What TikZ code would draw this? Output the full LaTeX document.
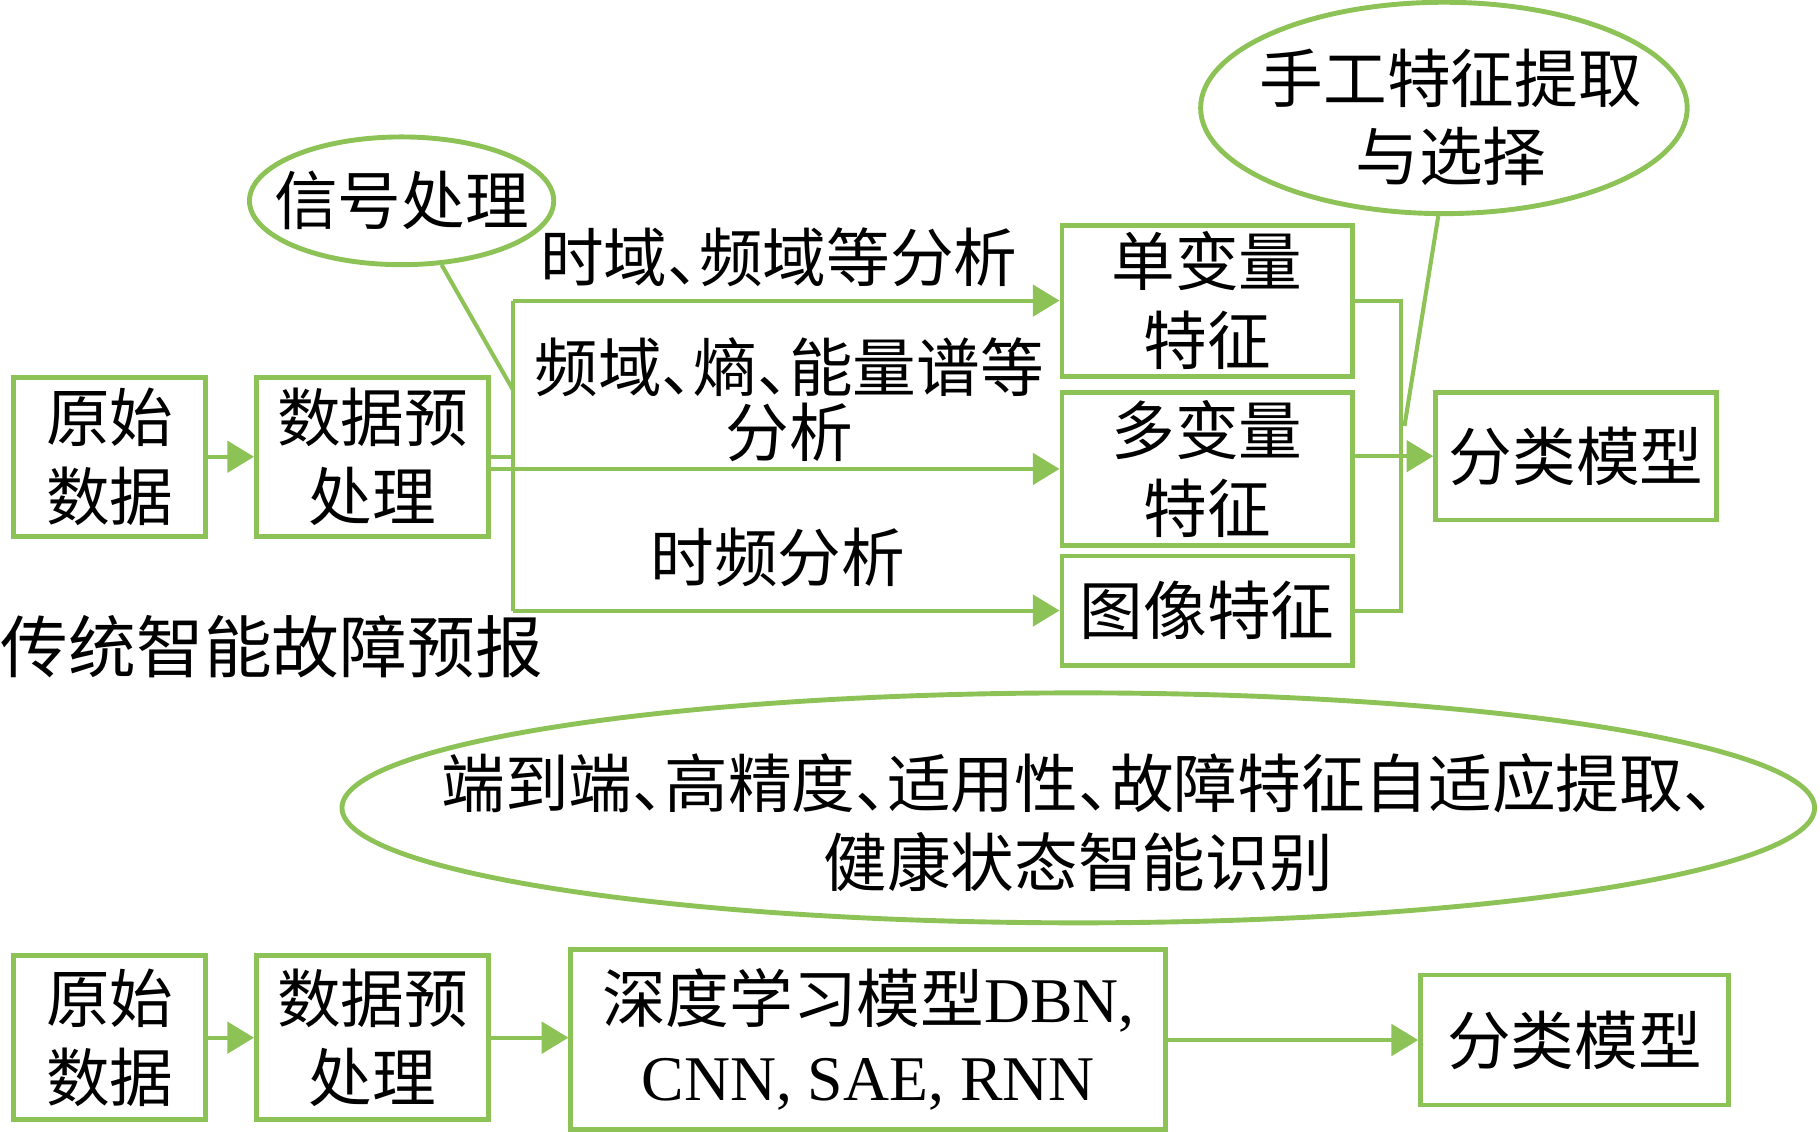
\documentclass[tikz,border=0pt]{standalone}
\usepackage{fontspec}
\usepackage{tikz}
\setmainfont{Liberation Serif}
\newfontfamily\cjk{Noto Sans CJK SC}
\usetikzlibrary{arrows.meta}
\usetikzlibrary{positioning}
\usetikzlibrary{shapes.geometric}
\definecolor{mgreen}{RGB}{141, 194, 87}
\newcommand{\fsz}{\fontsize{15.6}{19.3}\selectfont}
\newcommand{\pc}{\makebox[0.5em][l]{、}}
\tikzset{box/.style = {draw = mgreen, line width = 1.2pt, align = center,
                       inner sep = 0, font = \cjk\fsz}}
\tikzset{oval/.style = {ellipse, draw = mgreen, line width = 1.2pt, inner sep = 0}}
\tikzset{lab/.style = {align = center, inner sep = 0, font = \cjk\fsz}}
\tikzset{wire/.style = {draw = mgreen, line width = 1pt}}
\tikzset{arr/.style = {-{Triangle[length = 2.3mm, width = 2.7mm]}}}

\begin{document}
\begin{tikzpicture}[x = 0.01cm, y = -0.01cm]
    \useasboundingbox (0, 0) rectangle (1568, 975);
    \node [box, minimum width = 1.65cm, minimum height = 1.37cm] (raw1) at (94.5, 393.5) {原始\\数据};
    \node [box, minimum width = 2cm, minimum height = 1.37cm] (pre1) at (321, 393.5) {数据预\\处理};
    \node [box, minimum width = 2.5cm, minimum height = 1.3cm] (uni) at (1040, 259) {单变量\\特征};
    \node [box, minimum width = 2.5cm, minimum height = 1.32cm] (multi) at (1040, 404) {多变量\\特征};
    \node [box, minimum width = 2.5cm, minimum height = 0.94cm] (img) at (1040, 526) {图像特征};
    \node [box, minimum width = 2.42cm, minimum height = 1.1cm] (cls1) at (1358, 393) {分类模型};
    \node [oval, minimum width = 2.62cm, minimum height = 1.1cm] (sig) at (346, 173) {};
    \node [lab] (sigtext) at (sig) {信号处理};
    \node [oval, minimum width = 4.19cm, minimum height = 1.82cm] (hand) at (1244, 93) {};
    \node [lab] (handtext) at (1250, 101) {手工特征提取\\与选择};
    \node [lab] (t1) at (671, 222) {时域\pc 频域等分析};
    \node [lab, font = \cjk\fontsize{15.6}{15.9}\selectfont] (t2) at (680, 344) {频域\pc 熵\pc 能量谱等\\分析};
    \node [lab] (t3) at (670, 480) {时频分析};
    \node [lab, anchor = west, font = \cjk\fontsize{16.6}{19}\selectfont] (title) at (0, 557) {传统智能故障预报};
    \coordinate (bus) at (442, 0);
    \coordinate (join) at (1207, 0);
    \coordinate (sigtip) at (442, 336);
    \coordinate (handtip) at (1210, 367);
    \draw [wire] (pre1.east) -- (pre1.east -| bus);
    \draw [wire] (uni.west -| bus) -- (img.west -| bus);
    \draw [wire, arr] (uni.west -| bus) -- (uni.west);
    \draw [wire, arr] (pre1.east |- multi.west) -- (multi.west);
    \draw [wire, arr] (img.west -| bus) -- (img.west);
    \draw [wire] (uni.east) -- (uni.east -| join) -- (img.east -| join) -- (img.east);
    \draw [wire, arr] (multi.east |- cls1.west) -- (cls1.west);
    \draw [wire, arr] (raw1.east) -- (pre1.west);
    \draw [wire] (sig.-58) -- (sigtip);
    \draw [wire] (hand.-93) -- (handtip);
    \node [oval, minimum width = 12.68cm, minimum height = 1.98cm] (goal) at (929, 696) {};
    \node [lab] (goaltext) at (929, 709) {端到端\pc 高精度\pc 适用性\pc 故障特征自适应提取\pc\\健康状态智能识别};
    \node [box, minimum width = 1.65cm, minimum height = 1.41cm] (raw2) at (94.5, 894) {原始\\数据};
    \node [box, minimum width = 2cm, minimum height = 1.41cm] (pre2) at (321, 894) {数据预\\处理};
    \node [box, minimum width = 5.12cm, minimum height = 1.55cm] (deep) at (748, 895.5)
        {深度学习模型{\rmfamily DBN,}\\{\rmfamily CNN, SAE, RNN}};
    \node [box, minimum width = 2.65cm, minimum height = 1.12cm] (cls2) at (1356.5, 896) {分类模型};
    \draw [wire, arr] (raw2.east) -- (pre2.west);
    \draw [wire, arr] (pre2.east) -- (pre2.east -| deep.west);
    \draw [wire, arr] (deep.east |- cls2.west) -- (cls2.west);
\end{tikzpicture}
\end{document}
